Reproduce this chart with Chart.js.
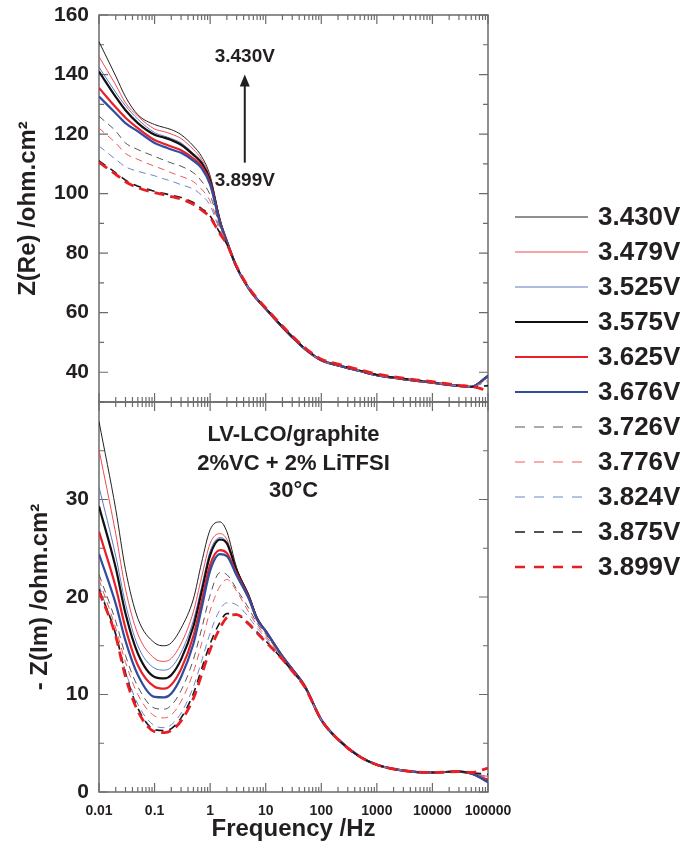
<!DOCTYPE html>
<html>
<head>
<meta charset="utf-8">
<script src="https://cdn.jsdelivr.net/npm/chart.js@4.4.1/dist/chart.umd.min.js"></script>
<style>
    body { margin: 0; background: #fff; }
    #wrap { position: relative; width: 685px; height: 848px; overflow: hidden; }
    #chart-re { position: absolute; left: 0; top: 0; }
    #chart-im { position: absolute; left: 0; top: 392px; }
    #legend { position: absolute; left: 515px; top: 199px; font: bold 26px "Liberation Sans", Arial, sans-serif; color: #231f20; }
    #legend .row { height: 35px; display: flex; align-items: center; }
    #legend svg { margin-right: 10px; }
</style>
</head>
<body>
<div id="wrap">
    <canvas id="chart-re" width="685" height="410"></canvas>
    <canvas id="chart-im" width="685" height="456"></canvas>
    <div id="legend"></div>
</div>
<script>
// frequency grid (Hz)
var freq = [0.01, 0.02, 0.03, 0.05, 0.1, 0.15, 0.2, 0.3, 0.5, 0.7, 1, 1.5, 2, 3, 5, 7, 10, 20, 30, 50, 100, 200, 500, 1000, 3000, 10000, 30000, 50000, 100000];

var voltages = ["3.430V", "3.479V", "3.525V", "3.575V", "3.625V", "3.676V", "3.726V", "3.776V", "3.824V", "3.875V", "3.899V"];

// Z(Re) /ohm.cm2
var re3430 = [151, 139.5, 132.5, 126.5, 123.2, 122.2, 121.5, 119.8, 116, 112.5, 106, 91.5, 84, 75.3, 68.0, 64.5, 61.3, 55.1, 51.8, 47.9, 44.0, 42.3, 40.4, 39.0, 37.7, 36.5, 35.4, 35.1, 38.8];
var re3479 = [146, 136.5, 130.5, 126, 121.7, 120.8, 120, 118.5, 114.8, 111.5, 105.5, 91.2, 84, 75.3, 68.0, 64.5, 61.3, 55.1, 51.8, 47.9, 44.0, 42.3, 40.4, 39.0, 37.7, 36.5, 35.4, 35.1, 38.5];
var re3525 = [142.5, 134, 129.5, 125, 120.5, 119.3, 118.5, 117, 113.5, 110.8, 104.8, 91, 84, 75.3, 68.0, 64.5, 61.3, 55.1, 51.8, 47.9, 44.0, 42.3, 40.4, 39.0, 37.7, 36.5, 35.4, 35.1, 38.6];
var re3575 = [141, 132.5, 128, 123.7, 119.8, 118.8, 118, 116.4, 113, 110.3, 104.5, 90.8, 84, 75.3, 68.0, 64.5, 61.3, 55.1, 51.8, 47.9, 44.0, 42.3, 40.4, 39.0, 37.7, 36.5, 35.4, 35.1, 38.8];
var re3625 = [135.5, 129, 125.5, 122, 118, 116.7, 115.8, 114.6, 111.8, 109.3, 103.5, 90.5, 83.8, 75.3, 68.0, 64.5, 61.3, 55.1, 51.8, 47.9, 44.0, 42.3, 40.4, 39.0, 37.7, 36.5, 35.4, 35.1, 38.7];
var re3676 = [132.6, 127, 123.7, 120.9, 117, 115.7, 114.8, 113.7, 111, 108.6, 103, 90.2, 83.8, 75.3, 68.0, 64.5, 61.3, 55.1, 51.8, 47.9, 44.0, 42.3, 40.4, 39.0, 37.7, 36.5, 35.4, 35.1, 38.8];
var re3726 = [126, 121, 117, 114.8, 112.5, 111.2, 110.3, 109.2, 107, 104.2, 99.5, 89, 83.6, 75.3, 68.0, 64.5, 61.3, 55.1, 51.8, 47.9, 44.0, 42.3, 40.4, 39.0, 37.7, 36.5, 35.4, 35.1, 38.0];
var re3776 = [122, 117, 113.5, 111.5, 109.2, 108, 107, 105.8, 104, 101.5, 97.5, 88.3, 83.5, 75.3, 68.0, 64.5, 61.3, 55.1, 51.8, 47.9, 44.0, 42.3, 40.4, 39.0, 37.7, 36.5, 35.4, 35.1, 37.5];
var re3824 = [116, 111.5, 109, 107.5, 106, 104.9, 104.2, 103, 101.5, 99.5, 96, 87.6, 83.3, 75.3, 68.0, 64.5, 61.3, 55.1, 51.8, 47.9, 44.0, 42.3, 40.4, 39.0, 37.7, 36.5, 35.4, 35.1, 37.0];
var re3875 = [111, 107, 104.5, 102.5, 100.8, 100, 99.5, 98.7, 97, 95, 92.5, 86.8, 83, 75.4, 68.2, 64.7, 61.5, 55.3, 52.0, 48.1, 44.2, 42.5, 40.6, 39.2, 37.9, 36.7, 35.5, 35.1, 35.5];
var re3899 = [110.5, 106.5, 104, 102, 100.3, 99.6, 99, 98.2, 96.4, 94.5, 92, 86.5, 83, 75.5, 68.3, 64.8, 61.6, 55.5, 52.2, 48.3, 44.4, 42.7, 40.8, 39.4, 38.0, 36.8, 35.6, 35.2, 33.8];

// -Z(Im) /ohm.cm2
var im3430 = [38, 29, 22.8, 17.8, 15.3, 15.0, 15.3, 16.8, 19.8, 23.5, 26.9, 27.7, 26.7, 23.0, 20.2, 17.9, 16.5, 13.9, 12.6, 10.9, 7.4, 5.4, 3.6, 2.8, 2.2, 2.0, 2.1, 1.9, 1.2];
var im3479 = [35.1, 26.5, 20.8, 16.2, 13.7, 13.4, 13.7, 15.2, 18.5, 22.0, 25.5, 26.5, 25.9, 22.8, 20.1, 17.9, 16.5, 13.9, 12.6, 10.9, 7.4, 5.4, 3.6, 2.8, 2.2, 2.0, 2.1, 1.9, 1.6];
var im3525 = [31.3, 24.2, 19.3, 15.0, 12.7, 12.5, 12.8, 14.3, 17.6, 21.0, 24.7, 26.1, 25.6, 22.7, 20.0, 17.8, 16.5, 13.9, 12.6, 10.9, 7.4, 5.4, 3.6, 2.8, 2.2, 2.0, 2.1, 1.9, 1.3];
var im3575 = [29.3, 23.0, 18.3, 14.2, 11.8, 11.65, 12.0, 13.6, 17.0, 20.5, 24.3, 25.9, 25.5, 22.7, 20.0, 17.8, 16.5, 13.9, 12.6, 10.9, 7.4, 5.4, 3.6, 2.8, 2.2, 2.0, 2.1, 1.9, 1.1];
var im3625 = [26.7, 21.0, 16.8, 13.0, 10.8, 10.6, 11.0, 12.6, 16.0, 19.5, 23.3, 24.8, 24.5, 22.4, 19.9, 17.7, 16.5, 13.9, 12.6, 10.9, 7.4, 5.4, 3.6, 2.8, 2.2, 2.0, 2.1, 1.9, 1.2];
var im3676 = [24.4, 19.3, 15.5, 12.0, 9.75, 9.7, 10.1, 11.8, 15.2, 18.8, 22.7, 24.4, 24.2, 22.2, 19.8, 17.7, 16.5, 13.9, 12.6, 10.9, 7.4, 5.4, 3.6, 2.8, 2.2, 2.0, 2.1, 1.9, 1.0];
var im3726 = [22.3, 17.5, 14.0, 10.8, 8.6, 8.5, 8.9, 10.4, 13.6, 16.7, 20.2, 22.5, 22.3, 20.8, 18.8, 17.3, 16.2, 13.8, 12.5, 10.8, 7.4, 5.4, 3.6, 2.8, 2.2, 2.0, 2.1, 2.0, 1.3];
var im3776 = [21.8, 16.8, 13.3, 10.0, 7.8, 7.6, 7.9, 9.3, 12.3, 15.2, 18.6, 21.1, 21.8, 20.6, 18.4, 17.1, 16.0, 13.8, 12.5, 10.8, 7.4, 5.4, 3.6, 2.8, 2.2, 2.0, 2.1, 2.0, 1.5];
var im3824 = [21.2, 16.0, 12.4, 9.0, 6.8, 6.6, 6.9, 8.1, 10.8, 13.4, 16.3, 18.7, 19.4, 19.2, 17.9, 16.8, 15.8, 13.7, 12.5, 10.8, 7.4, 5.4, 3.6, 2.8, 2.2, 2.0, 2.1, 2.0, 1.4];
var im3875 = [20.8, 16.2, 12.2, 8.6, 6.4, 6.3, 6.5, 7.6, 10.1, 12.6, 15.2, 17.4, 18.3, 18.2, 17.3, 16.4, 15.5, 13.6, 12.4, 10.8, 7.4, 5.4, 3.6, 2.8, 2.2, 2.0, 2.1, 2.0, 1.8];
var im3899 = [20.6, 16.0, 11.8, 8.3, 6.2, 6.1, 6.3, 7.3, 9.6, 12.0, 14.6, 16.8, 17.9, 18.2, 17.2, 16.3, 15.4, 13.6, 12.4, 10.8, 7.4, 5.4, 3.6, 2.8, 2.2, 2.0, 2.1, 2.0, 2.45];

var reSeries = [re3430, re3479, re3525, re3575, re3625, re3676, re3726, re3776, re3824, re3875, re3899];
var imSeries = [im3430, im3479, im3525, im3575, im3625, im3676, im3726, im3776, im3824, im3875, im3899];

// axis ticks
var xTicks = [0.01, 0.1, 1, 10, 100, 1000, 10000, 100000];
var xTickLabels = ["0.01", "0.1", "1", "10", "100", "1000", "10000", "100000"];
var reTicks = [40, 60, 80, 100, 120, 140, 160];
var imTicks = [0, 10, 20, 30];

// line styles
var lineColors = ["#231f20", "#ef4a4f", "#5b78c2", "#111111", "#e8202a", "#2f4c9f", "#555555", "#f0585c", "#6a86cc", "#1a1a1a", "#e81e25"];
var lineWidths = [1, 1, 1, 2.2, 2.2, 2.2, 1, 1, 1, 1.6, 2.8];
var lineDash = [[], [], [], [], [], [], [7, 5], [7, 5], [7, 5], [8, 6], [10, 6]];

var FONT = '"Liberation Sans", Arial, sans-serif';
var AXIS = '#6b6b6b';

function makeDatasets(series) {
    return series.map(function (vals, i) {
        return {
            label: voltages[i],
            data: vals.map(function (v, j) { return { x: freq[j], y: v }; }),
            borderColor: lineColors[i],
            borderWidth: lineWidths[i],
            borderDash: lineDash[i],
            pointRadius: 0,
            fill: false,
            cubicInterpolationMode: 'monotone',
            order: series.length - i
        };
    });
}

// box around the plot + inward ticks on all four sides
var frameTicks = {
    id: 'frameTicks',
    beforeDatasetsDraw: function (chart, args, opts) {
        var c = chart.ctx, a = chart.chartArea, x = chart.scales.x, y = chart.scales.y;
        c.save();
        c.strokeStyle = AXIS;
        c.lineWidth = 1.5;
        c.strokeRect(a.left, a.top, a.right - a.left, a.bottom - a.top);
        c.lineWidth = 1.2;
        c.beginPath();
        xTicks.forEach(function (v, i) {
            var px = x.getPixelForValue(v);
            c.moveTo(px, a.bottom); c.lineTo(px, a.bottom - 9);
            c.moveTo(px, a.top); c.lineTo(px, a.top + 9);
            if (i < xTicks.length - 1) {
                for (var k = 2; k < 10; k++) {
                    var mx = x.getPixelForValue(v * k);
                    c.moveTo(mx, a.bottom); c.lineTo(mx, a.bottom - 5);
                    c.moveTo(mx, a.top); c.lineTo(mx, a.top + 5);
                }
            }
        });
        var n = Math.round((y.max - y.min) / opts.step);
        for (var j = 0; j <= n; j++) {
            var v = y.min + j * opts.step;
            var py = y.getPixelForValue(v);
            var len = opts.major.indexOf(v) >= 0 ? 9 : 5;
            c.moveTo(a.left, py); c.lineTo(a.left + len, py);
            c.moveTo(a.right, py); c.lineTo(a.right - len, py);
        }
        c.stroke();
        c.restore();
    }
};

// "3.430V" / "3.899V" with arrow, and the cell description
var notes = {
    id: 'notes',
    afterDraw: function (chart, args, opts) {
        var c = chart.ctx, x = chart.scales.x, y = chart.scales.y, a = chart.chartArea;
        c.save();
        c.fillStyle = '#231f20';
        c.strokeStyle = '#231f20';
        c.textAlign = 'center';
        c.textBaseline = 'alphabetic';
        if (opts.arrow) {
            var ax = x.getPixelForValue(4.2);
            c.font = 'bold 19px ' + FONT;
            c.fillText("3.430V", ax, y.getPixelForValue(144.3));
            c.fillText("3.899V", ax, y.getPixelForValue(102.4));
            var tip = y.getPixelForValue(140), base = y.getPixelForValue(110.4);
            c.lineWidth = 2;
            c.beginPath(); c.moveTo(ax, base); c.lineTo(ax, tip + 8); c.stroke();
            c.beginPath(); c.moveTo(ax, tip); c.lineTo(ax - 5, tip + 12); c.lineTo(ax + 5, tip + 12); c.closePath(); c.fill();
        }
        if (opts.cell) {
            var cx = (a.left + a.right) / 2;
            c.font = 'bold 22px ' + FONT;
            c.fillText("LV-LCO/graphite", cx, y.getPixelForValue(36.0));
            c.fillText("2%VC + 2% LiTFSI", cx, y.getPixelForValue(33.0));
            c.fillText("30°C", cx, y.getPixelForValue(30.3));
        }
        c.restore();
    }
};

function xScale(showLabels) {
    return {
        type: 'logarithmic',
        min: 0.01,
        max: 100000,
        display: showLabels,
        afterBuildTicks: function (s) { s.ticks = xTicks.map(function (v) { return { value: v }; }); },
        afterFit: function (s) {
            if (showLabels) s.height = 56;
            s.paddingLeft = 0; s.paddingRight = 0;
        },
        grid: { display: false, drawTicks: false },
        border: { display: false },
        ticks: {
            padding: 11,
            autoSkip: false,
            maxRotation: 0,
            color: '#231f20',
            font: { family: FONT, size: 14, weight: 'bold' },
            callback: function (v) { var i = xTicks.indexOf(v); return i >= 0 ? xTickLabels[i] : ''; }
        },
        title: {
            display: true,
            text: 'Frequency /Hz',
            color: '#231f20',
            padding: { top: 0, bottom: 4 },
            font: { family: FONT, size: 24, weight: 'bold' }
        }
    };
}

function yScale(min, max, ticks, title, titlePad) {
    return {
        type: 'linear',
        min: min,
        max: max,
        afterBuildTicks: function (s) { s.ticks = ticks.map(function (v) { return { value: v }; }); },
        afterFit: function (s) {
            s.width = 99;
            s.paddingTop = 0; s.paddingBottom = 0;
        },
        grid: { display: false, drawTicks: false },
        border: { display: false },
        ticks: {
            padding: 10,
            color: '#231f20',
            font: { family: FONT, size: 21, weight: 'bold' }
        },
        title: {
            display: true,
            text: title,
            color: '#231f20',
            padding: { top: titlePad, bottom: 0 },
            font: { family: FONT, size: 24, weight: 'bold' }
        }
    };
}

new Chart(document.getElementById("chart-re").getContext("2d"), {
    type: 'line',
    data: { datasets: makeDatasets(reSeries) },
    plugins: [frameTicks, notes],
    options: {
        responsive: false,
        animation: false,
        layout: { padding: { top: 15, right: 197, bottom: 8, left: 0 } },
        plugins: {
            legend: { display: false },
            tooltip: { enabled: false },
            frameTicks: { step: 10, major: reTicks },
            notes: { arrow: true }
        },
        scales: {
            x: xScale(false),
            y: yScale(30, 160, reTicks, 'Z(Re) /ohm.cm²', 14)
        }
    }
});

new Chart(document.getElementById("chart-im").getContext("2d"), {
    type: 'line',
    data: { datasets: makeDatasets(imSeries) },
    plugins: [frameTicks, notes],
    options: {
        responsive: false,
        animation: false,
        layout: { padding: { top: 10, right: 197, bottom: 0, left: 0 } },
        plugins: {
            legend: { display: false },
            tooltip: { enabled: false },
            frameTicks: { step: 5, major: imTicks },
            notes: { cell: true }
        },
        scales: {
            x: xScale(true),
            y: yScale(0, 40, imTicks, '- Z(Im) /ohm.cm²', 26)
        }
    }
});

// legend on the right
var legend = document.getElementById("legend");
voltages.forEach(function (v, i) {
    var row = document.createElement("div");
    row.className = "row";
    var dash = lineDash[i].length ? ' stroke-dasharray="10 9"' : '';
    row.innerHTML = '<svg width="73" height="6"><line x1="0" y1="3" x2="73" y2="3" stroke="' + lineColors[i] +
        '" stroke-width="' + Math.min(lineWidths[i], 2.4) + '"' + dash + '/></svg><span>' + v + '</span>';
    legend.appendChild(row);
});
</script>
</body>
</html>
